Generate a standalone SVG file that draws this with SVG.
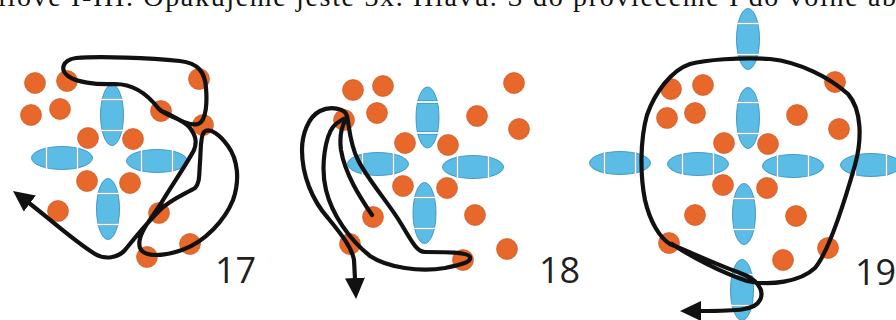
<svg xmlns="http://www.w3.org/2000/svg" xmlns:xlink="http://www.w3.org/1999/xlink" width="896" height="320" viewBox="0 0 896 320">
<style>
.bead{fill:#e8672b;stroke:#c4521c;stroke-width:0.6}
.cord{fill:none;stroke:#111;stroke-width:4.2;stroke-linecap:round;stroke-linejoin:round}
.num{font-family:"Open Sans","DejaVu Sans",sans-serif;font-size:36px;fill:#231f20}
.top{font-family:"Liberation Serif","Times New Roman",serif;font-size:28px;fill:#111}
</style>
<defs>
<g id="bv">
<ellipse cx="0" cy="0" rx="11.5" ry="30.5" fill="#5bbde6" stroke="#2f88bd" stroke-width="0.8"/>
<line x1="-10.5" y1="-15.5" x2="10.5" y2="-15.5" stroke="#2f88bd" stroke-width="3"/>
<line x1="-10.5" y1="15.5" x2="10.5" y2="15.5" stroke="#2f88bd" stroke-width="3"/>
<line x1="-11" y1="-15.5" x2="11" y2="-15.5" stroke="#fff" stroke-width="1.8"/>
<line x1="-11" y1="15.5" x2="11" y2="15.5" stroke="#fff" stroke-width="1.8"/>
</g>
<marker id="ah" viewBox="0 -10 22 20" refX="1" refY="0" markerWidth="22" markerHeight="20" markerUnits="userSpaceOnUse" orient="auto">
<path d="M0,-10 L21,0 L0,10 Z" fill="#111"/>
</marker>
</defs>
<rect width="896" height="320" fill="#fff"/>
<text class="top" x="-2" y="6" textLength="898" lengthAdjust="spacing">ilově I-III. Opakujeme ještě 3x. Hlavu. S do provlečeme I do volné ab</text>

<g id="fig17">
<g id="fig17-bobbins">
<use xlink:href="#bv" transform="translate(112,115)"/>
<use xlink:href="#bv" transform="translate(62,158) rotate(90)"/>
<use xlink:href="#bv" transform="translate(157,161) rotate(90)"/>
<use xlink:href="#bv" transform="translate(108,209)"/>
</g>
<g id="fig17-beads">
<circle class="bead" cx="35" cy="83" r="10.5"/><circle class="bead" cx="67" cy="81" r="10.5"/>
<circle class="bead" cx="31" cy="115" r="10.5"/><circle class="bead" cx="60" cy="109" r="10.5"/>
<circle class="bead" cx="199" cy="79" r="10.5"/><circle class="bead" cx="161" cy="111" r="10.5"/>
<circle class="bead" cx="203" cy="125" r="10.5"/><circle class="bead" cx="88" cy="138" r="10.5"/>
<circle class="bead" cx="133" cy="139" r="10.5"/><circle class="bead" cx="87" cy="181" r="10.5"/>
<circle class="bead" cx="130" cy="183" r="10.5"/><circle class="bead" cx="58" cy="211" r="10.5"/>
<circle class="bead" cx="159" cy="213" r="10.5"/><circle class="bead" cx="190" cy="244" r="10.5"/>
<circle class="bead" cx="147" cy="257" r="10.5"/>
</g>
<text class="num" x="215" y="283">17</text>
</g>

<g id="fig18">
<g id="fig18-bobbins">
<use xlink:href="#bv" transform="translate(427.5,117.5)"/>
<use xlink:href="#bv" transform="translate(378,164) rotate(90)"/>
<use xlink:href="#bv" transform="translate(473,167) rotate(90)"/>
<use xlink:href="#bv" transform="translate(424.5,213)"/>
</g>
<g id="fig18-beads">
<circle class="bead" cx="353" cy="90" r="10.5"/><circle class="bead" cx="383" cy="86" r="10.5"/>
<circle class="bead" cx="377" cy="113" r="10.5"/><circle class="bead" cx="344" cy="120" r="10.5"/>
<circle class="bead" cx="514" cy="83" r="10.5"/><circle class="bead" cx="477" cy="116" r="10.5"/>
<circle class="bead" cx="519" cy="129" r="10.5"/><circle class="bead" cx="405" cy="143" r="10.5"/>
<circle class="bead" cx="448" cy="145" r="10.5"/><circle class="bead" cx="403" cy="186" r="10.5"/>
<circle class="bead" cx="447" cy="188" r="10.5"/><circle class="bead" cx="373" cy="217" r="10.5"/>
<circle class="bead" cx="475" cy="215" r="10.5"/><circle class="bead" cx="350" cy="244" r="10.5"/>
<circle class="bead" cx="507" cy="249" r="10.5"/><circle class="bead" cx="463" cy="260" r="10.5"/>
</g>
<text class="num" x="539" y="283">18</text>
</g>

<g id="fig19">
<g id="fig19-bobbins">
<use xlink:href="#bv" transform="translate(748,39)"/>
<use xlink:href="#bv" transform="translate(748,118)"/>
<use xlink:href="#bv" transform="translate(620,163) rotate(90)"/>
<use xlink:href="#bv" transform="translate(698,164) rotate(90)"/>
<use xlink:href="#bv" transform="translate(793,166) rotate(90)"/>
<use xlink:href="#bv" transform="translate(871,165) rotate(90)"/>
<use xlink:href="#bv" transform="translate(744,214)"/>
<use xlink:href="#bv" transform="translate(742,290)"/>
</g>
<g id="fig19-beads">
<circle class="bead" cx="671" cy="89" r="10.5"/><circle class="bead" cx="703" cy="85" r="10.5"/>
<circle class="bead" cx="667" cy="118" r="10.5"/><circle class="bead" cx="695" cy="113" r="10.5"/>
<circle class="bead" cx="835" cy="82" r="10.5"/><circle class="bead" cx="797" cy="115" r="10.5"/>
<circle class="bead" cx="839" cy="129" r="10.5"/><circle class="bead" cx="724" cy="143" r="10.5"/>
<circle class="bead" cx="768" cy="144" r="10.5"/><circle class="bead" cx="723" cy="185" r="10.5"/>
<circle class="bead" cx="767" cy="188" r="10.5"/><circle class="bead" cx="695" cy="215" r="10.5"/>
<circle class="bead" cx="796" cy="216" r="10.5"/><circle class="bead" cx="669" cy="243" r="10.5"/>
<circle class="bead" cx="828" cy="248" r="10.5"/><circle class="bead" cx="783" cy="260" r="10.5"/>
</g>
<text class="num" x="855" y="285">19</text>
</g>

<g id="connectors">
<path class="cord" marker-end="url(#ah)" d="M161,111 C172,114 186,127 198,124 C207,121 207,100 206,88 C205,72 198,63 180,61 C150,58 100,56 76,58 C62,60 60,70 68,76 C76,82 95,85 115,84 C135,84 148,95 158,108 C166,117 182,117 190,128 C196,136 197,142 194,150 C188,162 172,185 160,205 C150,220 136,236 140,248 C144,258 165,256 182,250 C205,242 225,220 233,200 C240,180 238,160 228,146 C220,135 210,127 204,132 C200,137 201,150 200,162 C199,175 200,183 195,188 C185,194 170,200 160,210 C148,222 133,240 125,250 C118,258 105,260 95,254 C75,242 45,215 29,203"/>
<path class="cord" marker-end="url(#ah)" d="M372,215 C362,200 345,175 341,150 C339,135 343,124 346,119 C347,117 338,121 333,127 C326,136 320,165 326,190 C332,215 350,240 370,256 C388,268 420,272 445,268 C460,265 472,262 470,257 C468,252 445,252 425,252 C416,252 410,238 400,222 C390,205 368,180 358,160 C350,145 349,125 347,116 C345,108 330,106 320,111 C308,117 302,135 302,150 C302,175 312,200 328,218 C342,235 352,248 354,260 L355,279"/>
<path class="cord" marker-end="url(#ah)" d="M672,244 C690,256 720,272 747,281 C770,286 800,282 815,268 C830,250 845,200 855,165 C862,140 862,110 848,94 C830,78 800,62 770,59 C740,57 705,60 690,64 C672,70 655,92 647,115 C640,140 640,175 645,200 C650,222 660,238 670,244 C690,252 715,264 740,273 C757,279 765,290 760,300 C755,310 740,311 700,311"/>
</g>
</svg>
